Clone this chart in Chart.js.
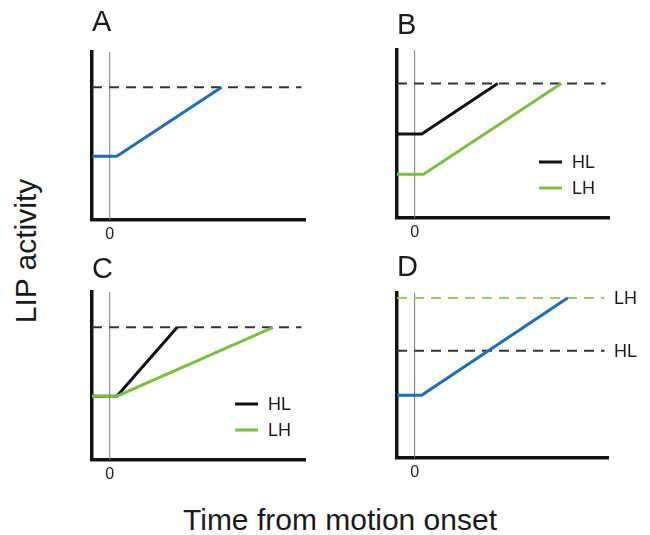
<!DOCTYPE html>
<html>
<head>
<meta charset="utf-8">
<script src="https://cdn.jsdelivr.net/npm/chart.js@4"></script>
<style>
  body { margin: 0; background: #fff; }
  #fig { position: relative; width: 650px; height: 535px; overflow: hidden; font-family: "Liberation Sans", Arial, sans-serif; color: #1a1a1a; }
  #fig canvas { position: absolute; }
  .axis-label { position: absolute; font-size: 30px; line-height: 32px; text-align: center; white-space: nowrap; }
</style>
</head>
<body>
<div id="fig">
  <canvas id="panelA" width="265" height="250" style="left:60px;top:0px"></canvas>
  <canvas id="panelB" width="285" height="250" style="left:365px;top:0px"></canvas>
  <canvas id="panelC" width="265" height="250" style="left:60px;top:250px"></canvas>
  <canvas id="panelD" width="285" height="250" style="left:365px;top:250px"></canvas>
  <div class="axis-label" style="left:-74px;top:235px;width:200px;transform:rotate(-90deg)">LIP activity</div>
  <div class="axis-label" style="left:140px;top:504px;width:400px">Time from motion onset</div>
</div>
<script>
// time axis (motion onset at 0) and activity axis
const timeRange = [-1, 11];
const activityRange = [0, 10];
const timeTicks = [0];
const boundSpan = [-1, 10.8];

// A: single condition
const aTime = [-1, 0.4, 6.3];
const aRate = [3.8, 3.8, 7.9];
const aBound = 7.9;

// B: different starting points
const bHLTime = [-1, 0.4, 4.7];
const bHLRate = [5, 5, 8];
const bLHTime = [-1, 0.5, 8.3];
const bLHRate = [2.6, 2.6, 8];
const bBound = 8;

// C: different slopes
const cHLTime = [-1, 0.4, 3.8];
const cHLRate = [3.8, 3.8, 7.9];
const cLHTime = [-1, 0.4, 9.2];
const cLHRate = [3.8, 3.8, 7.9];
const cBound = 7.9;

// D: different bounds
const dTime = [-1, 0.4, 8.7];
const dRate = [3.8, 3.8, 9.7];
const dBoundHL = 6.5;
const dBoundLH = 9.7;

const BLUE = "#1f6db4";
const GREEN = "#7dbf45";
const LIGHT_GREEN = "#98cc66";
const BLACK = "#111";
const FONT = "'Liberation Sans', Arial, sans-serif";

function pts(xs, ys) {
  return xs.map((x, i) => ({ x: x, y: ys[i] }));
}

function trace(label, xs, ys, color) {
  return { label: label, data: pts(xs, ys), borderColor: color, borderWidth: 3, pointRadius: 0, tension: 0 };
}

function bound(level, color, side) {
  return {
    data: pts(boundSpan, [level, level]),
    borderColor: color, borderWidth: 2, borderDash: [10, 7],
    pointRadius: 0, sideLabel: side,
  };
}

function onsetLine() {
  return { data: pts([0, 0], activityRange), borderColor: "#777", borderWidth: 1, pointRadius: 0 };
}

// small key drawn inside the plot, bottom right
const keyLegend = {
  id: "keyLegend",
  afterDraw(chart, args, opts) {
    if (!opts.items) return;
    const ctx = chart.ctx;
    const area = chart.chartArea;
    ctx.save();
    ctx.font = "18px " + FONT;
    ctx.textBaseline = "middle";
    opts.items.forEach((name, i) => {
      const ds = chart.data.datasets.find((d) => d.label === name);
      const x = area.right - 70;
      const y = area.bottom - 56 + i * 26;
      ctx.strokeStyle = ds.borderColor;
      ctx.lineWidth = 3;
      ctx.beginPath();
      ctx.moveTo(x, y);
      ctx.lineTo(x + 23, y);
      ctx.stroke();
      ctx.fillStyle = "#1a1a1a";
      ctx.fillText(name, x + 33, y + 1);
    });
    ctx.restore();
  },
};

// labels at the right end of bound lines
const sideLabels = {
  id: "sideLabels",
  afterDraw(chart) {
    const ctx = chart.ctx;
    const area = chart.chartArea;
    ctx.save();
    ctx.font = "18px " + FONT;
    ctx.textBaseline = "middle";
    ctx.fillStyle = "#1a1a1a";
    chart.data.datasets.forEach((ds) => {
      if (!ds.sideLabel) return;
      const y = chart.scales.y.getPixelForValue(ds.data[ds.data.length - 1].y);
      ctx.fillText(ds.sideLabel, area.right + 6, y + 1);
    });
    ctx.restore();
  },
};

function makePanel(id, letter, datasets, pad, titlePad, keyItems) {
  return new Chart(document.getElementById(id), {
    type: "line",
    data: { datasets: datasets },
    plugins: [keyLegend, sideLabels],
    options: {
      responsive: false,
      animation: false,
      layout: { padding: pad },
      plugins: {
        legend: { display: false },
        tooltip: { enabled: false },
        title: {
          display: true, text: letter, align: "start", color: "#1a1a1a",
          font: { family: FONT, size: 29, weight: "normal" },
          padding: titlePad,
        },
        keyLegend: { items: keyItems },
      },
      scales: {
        x: {
          type: "linear", min: timeRange[0], max: timeRange[1],
          grid: { display: false, drawTicks: false },
          border: { display: true, color: BLACK, width: 3.5 },
          afterBuildTicks: (scale) => { scale.ticks = timeTicks.map((v) => ({ value: v })); },
          ticks: { color: "#222", padding: 5, font: { family: FONT, size: 16 } },
        },
        y: {
          min: activityRange[0], max: activityRange[1],
          grid: { display: false, drawTicks: false },
          border: { display: true, color: BLACK, width: 3.5 },
          ticks: { display: false },
        },
      },
    },
  });
}

makePanel("panelA", "A", [
  trace("", aTime, aRate, BLUE),
  bound(aBound, "#333"),
  onsetLine(),
], { left: 32, right: 20, top: 0, bottom: 0.8 }, { top: 5.6, bottom: 11.6 });

makePanel("panelB", "B", [
  trace("HL", bHLTime, bHLRate, BLACK),
  trace("LH", bLHTime, bLHRate, GREEN),
  bound(bBound, "#333"),
  onsetLine(),
], { left: 32, right: 41, top: 0, bottom: 2.8 }, { top: 8.6, bottom: 6.6 }, ["HL", "LH"]);

makePanel("panelC", "C", [
  trace("LH", cLHTime, cLHRate, GREEN),
  trace("HL", cHLTime, cHLRate, BLACK),
  bound(cBound, "#333"),
  onsetLine(),
], { left: 32, right: 20, top: 0, bottom: 10.8 }, { top: 2.6, bottom: 4.6 }, ["HL", "LH"]);

makePanel("panelD", "D", [
  trace("", dTime, dRate, BLUE),
  bound(dBoundLH, LIGHT_GREEN, "LH"),
  bound(dBoundHL, "#333", "HL"),
  onsetLine(),
], { left: 32, right: 42, top: 0, bottom: 12.8 }, { top: 0.1, bottom: 8.1 });
</script>
</body>
</html>
